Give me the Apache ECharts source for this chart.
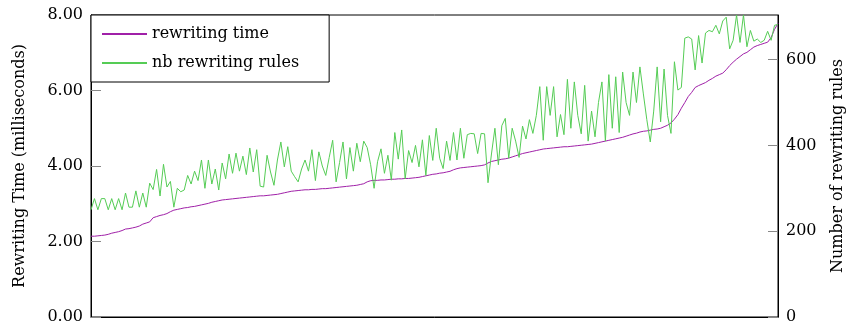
<!DOCTYPE html>
<html>
<head>
<meta charset="utf-8">
<script src="https://cdn.jsdelivr.net/npm/echarts@6/dist/echarts.min.js"></script>
<style>html,body{margin:0;padding:0;background:#fff}#c{width:854px;height:327px}</style>
</head>
<body>
<div id="c"></div>
<script>
const leftTicks = [0, 2, 4, 6, 8];
const rightTicks = [0, 200, 400, 600];
const seriesNames = ['rewriting time', 'nb rewriting rules'];
const rewritingTime = [
2.14,2.14,2.15,2.16,2.17,2.19,2.22,2.24,2.26,2.29,
2.33,2.34,2.36,2.38,2.41,2.46,2.49,2.52,2.63,2.66,
2.69,2.71,2.74,2.79,2.83,2.85,2.87,2.89,2.90,2.92,
2.93,2.95,2.97,2.99,3.01,3.04,3.06,3.08,3.10,3.11,
3.12,3.13,3.14,3.15,3.16,3.17,3.18,3.19,3.20,3.21,
3.21,3.22,3.23,3.24,3.25,3.27,3.29,3.31,3.33,3.34,
3.35,3.36,3.37,3.37,3.38,3.38,3.39,3.40,3.40,3.41,
3.42,3.43,3.44,3.45,3.46,3.47,3.48,3.49,3.51,3.53,
3.58,3.61,3.62,3.62,3.63,3.63,3.64,3.65,3.65,3.66,
3.66,3.67,3.67,3.68,3.69,3.70,3.72,3.74,3.76,3.78,
3.79,3.81,3.82,3.84,3.86,3.90,3.93,3.95,3.96,3.97,
3.98,3.99,4.00,4.01,4.03,4.08,4.12,4.14,4.16,4.18,
4.19,4.21,4.24,4.27,4.30,4.33,4.35,4.37,4.39,4.41,
4.43,4.45,4.46,4.47,4.48,4.49,4.50,4.51,4.51,4.52,
4.53,4.54,4.55,4.56,4.57,4.58,4.60,4.62,4.64,4.66,
4.68,4.70,4.72,4.74,4.76,4.79,4.82,4.85,4.87,4.90,
4.92,4.93,4.95,4.97,4.98,5.00,5.04,5.08,5.14,5.24,
5.36,5.53,5.68,5.84,5.95,6.08,6.13,6.17,6.21,6.27,
6.32,6.38,6.42,6.46,6.55,6.66,6.75,6.83,6.90,6.97,
7.01,7.08,7.15,7.19,7.22,7.25,7.28,7.40,7.62,7.78
];
const nbRules = [
250,276,250,276,276,250,276,250,276,250,
289,256,256,294,256,289,256,312,297,344,
282,356,303,316,256,300,292,296,330,310,
340,318,366,300,366,310,345,296,359,322,
380,335,382,340,375,332,394,338,390,305,
303,377,338,307,366,408,350,397,340,327,
315,345,366,340,390,318,385,352,330,372,
412,315,360,408,322,395,340,405,362,410,
395,355,300,362,392,335,377,319,430,368,
436,322,388,360,400,350,413,330,423,365,
440,370,346,410,365,430,366,440,370,425,
428,427,381,428,427,313,380,440,355,446,
463,370,440,410,372,445,415,460,428,470,
537,412,537,470,537,420,472,425,554,440,
548,470,427,540,410,480,420,500,548,410,
565,440,560,430,571,500,470,571,500,583,
520,460,408,480,583,455,578,470,428,595,
529,535,650,653,648,576,656,592,662,668,
665,680,660,690,699,625,645,704,640,704,
630,668,643,648,640,645,666,645,680,682
];

const FONT = 'DejaVu Serif';
const chart = echarts.init(document.getElementById('c'), null, {renderer: 'canvas'});
const idx = rewritingTime.map((_, i) => i);
chart.setOption({
  animation: false,
  backgroundColor: '#fff',
  grid: {left: 91, right: 71, top: 15, bottom: 10, show: true, borderColor: '#000', borderWidth: 1, backgroundColor: 'transparent'},
  legend: {
    left: 91, top: 15, orient: 'vertical',
    itemWidth: 45, itemHeight: 14, itemGap: 13,
    padding: [11, 30, 11, 10],
    borderColor: '#000', borderWidth: 1, borderRadius: 0, backgroundColor: '#fff',
    itemStyle: {opacity: 0},
    textStyle: {fontFamily: FONT, fontSize: 16, color: '#000'},
    data: seriesNames
  },
  xAxis: {
    type: 'value', min: 0, max: rewritingTime.length - 1,
    axisLine: {show: true, lineStyle: {color: '#000', width: 1}},
    axisTick: {show: false}, axisLabel: {show: false}, splitLine: {show: false}
  },
  yAxis: [
    {
      type: 'value', min: 0, max: 8, interval: 2, position: 'left',
      name: 'Rewriting Time (milliseconds)', nameLocation: 'middle', nameGap: 63, nameRotate: 90,
      nameTextStyle: {fontFamily: FONT, fontSize: 16, color: '#000'},
      axisLine: {show: true, lineStyle: {color: '#000', width: 1}},
      axisTick: {show: true, inside: true, length: 10, lineStyle: {color: '#888'}, customValues: leftTicks},
      axisLabel: {fontFamily: FONT, fontSize: 16, color: '#000', margin: 8, customValues: leftTicks, formatter: v => Number(v).toFixed(2)},
      splitLine: {show: false}
    },
    {
      type: 'value', min: 0, max: 704, position: 'right',
      name: 'Number of rewriting rules', nameLocation: 'middle', nameGap: 52, nameRotate: 90,
      nameTextStyle: {fontFamily: FONT, fontSize: 16, color: '#000'},
      axisLine: {show: true, lineStyle: {color: '#000', width: 1}},
      axisTick: {show: true, inside: true, length: 10, lineStyle: {color: '#888'}, customValues: rightTicks},
      axisLabel: {fontFamily: FONT, fontSize: 16, color: '#000', margin: 8, customValues: rightTicks},
      splitLine: {show: false}
    }
  ],
  series: [
    {
      name: seriesNames[0], type: 'line', yAxisIndex: 0, symbol: 'none',
      lineStyle: {color: '#a020a8', width: 1}, itemStyle: {color: '#a020a8'},
      data: idx.map(i => [i, rewritingTime[i]])
    },
    {
      name: seriesNames[1], type: 'line', yAxisIndex: 1, symbol: 'none',
      lineStyle: {color: '#55cc55', width: 1}, itemStyle: {color: '#55cc55'},
      data: idx.map(i => [i, nbRules[i]])
    }
  ]
});
</script>
</body>
</html>
